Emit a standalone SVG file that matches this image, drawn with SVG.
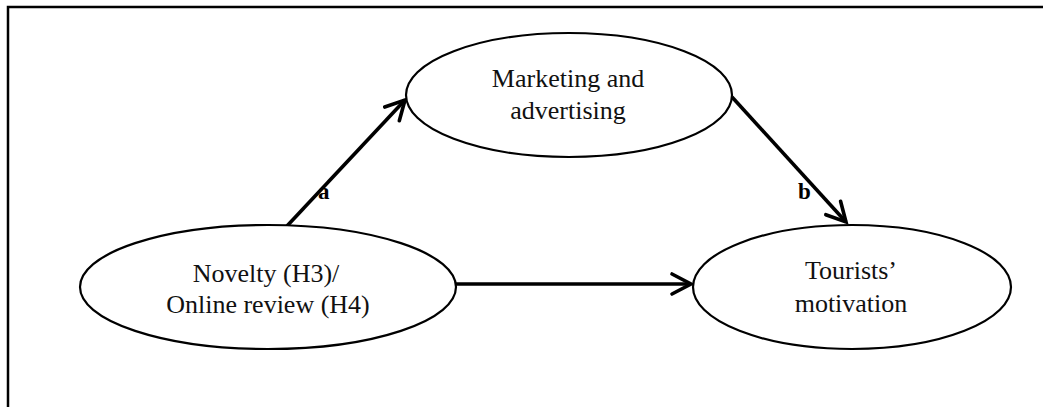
<svg xmlns="http://www.w3.org/2000/svg" width="1043" height="407" viewBox="0 0 1043 407">
  <style>
    .node { fill: #ffffff; stroke: #000000; stroke-width: 2.2; }
    .label { font-family: "Liberation Serif", "Times New Roman", serif; font-size: 26px; fill: #111111; text-anchor: middle; }
    .path-label { font-family: "Liberation Serif", "Times New Roman", serif; font-size: 23px; font-weight: bold; fill: #000000; }
    .edge { stroke: #000000; stroke-width: 3.6; fill: none; marker-end: url(#arrow); }
    .frame { stroke: #000000; stroke-width: 2.5; fill: none; }
  </style>
  <defs>
    <marker id="arrow" markerUnits="userSpaceOnUse" markerWidth="30" markerHeight="30" viewBox="-24 -15 30 30" refX="0" refY="0" orient="auto">
      <path d="M -19 -10 L 0 0 L -19 10" fill="none" stroke="#000000" stroke-width="3.6" stroke-linecap="round" stroke-linejoin="miter"/>
    </marker>
  </defs>

  <!-- open frame: top and left rules -->
  <path class="frame" d="M 8 407 L 8 7 L 1043 7"/>

  <!-- connectors -->
  <g id="connectors">
    <line class="edge" x1="287" y1="226" x2="405" y2="100"/>
    <line class="edge" x1="732" y1="97" x2="846" y2="222"/>
    <line class="edge" x1="455" y1="284" x2="691" y2="284"/>
    <text class="path-label" x="318" y="199">a</text>
    <text class="path-label" x="798" y="199">b</text>
  </g>

  <g id="node-mediator">
    <ellipse class="node" cx="569" cy="95" rx="163" ry="62"/>
    <text class="label" x="568" y="87">Marketing and</text>
    <text class="label" x="568" y="119">advertising</text>
  </g>

  <g id="node-independent">
    <ellipse class="node" cx="268" cy="287" rx="188" ry="62"/>
    <text class="label" x="266" y="282">Novelty (H3)/</text>
    <text class="label" x="268" y="313">Online review (H4)</text>
  </g>

  <g id="node-outcome">
    <ellipse class="node" cx="852" cy="287" rx="159" ry="62"/>
    <text class="label" x="851" y="279">Tourists’</text>
    <text class="label" x="851" y="312">motivation</text>
  </g>
</svg>
